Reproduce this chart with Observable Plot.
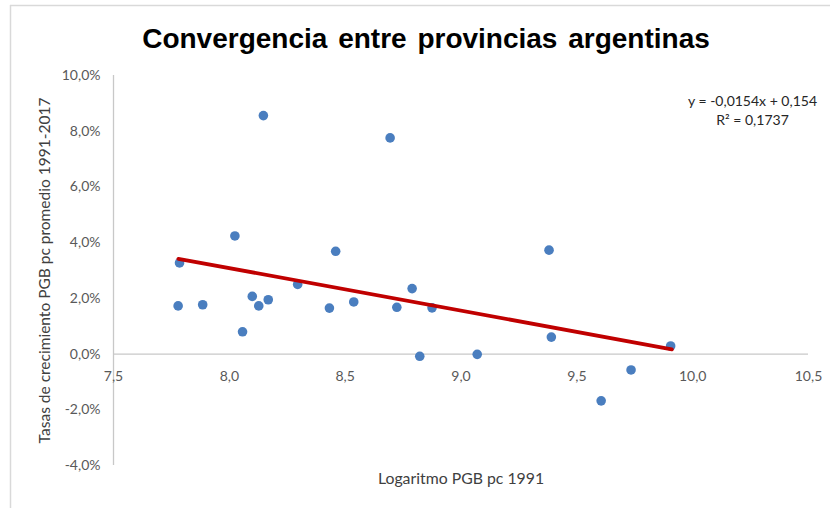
<!DOCTYPE html>
<html>
<head>
<meta charset="utf-8">
<script src="https://cdn.jsdelivr.net/npm/d3@7"></script>
<script src="https://cdn.jsdelivr.net/npm/@observablehq/plot@0.6"></script>
<style>
  html, body { margin: 0; padding: 0; background: #fff; }
  #chart { width: 830px; height: 508px; position: relative; }
</style>
</head>
<body>
<div id="chart"></div>
<script>
const title = "Convergencia entre provincias argentinas";
const xLabel = "Logaritmo PGB pc 1991";
const yLabel = "Tasas de crecimiento PGB pc promedio 1991-2017";
const equation = "y = -0,0154x + 0,154";
const rSquared = "R² = 0,1737";

// Logaritmo PGB pc 1991 (x) and average growth rate 1991-2017 in % (y)
const logPGB = [7.785, 7.779, 7.885, 8.024, 8.057, 8.099, 8.127, 8.147, 8.168, 8.295,
                8.432, 8.459, 8.537, 8.694, 8.723, 8.789, 8.822, 8.875, 9.070, 9.380,
                9.390, 9.605, 9.734, 9.905];
const growth = [3.27, 1.73, 1.77, 4.24, 0.80, 2.07, 1.73, 8.56, 1.95, 2.50,
                1.65, 3.69, 1.87, 7.76, 1.68, 2.35, -0.08, 1.66, -0.01, 3.73,
                0.61, -1.68, -0.57, 0.29];

// trend line end points (as drawn)
const trendX = [7.78, 9.91];
const trendY = [3.42, 0.17];

const xTicks = [7.5, 8.0, 8.5, 9.0, 9.5, 10.0, 10.5];
const yTicks = [-4, -2, 0, 2, 4, 6, 8, 10];

const points = logPGB.map((x, i) => ({x, y: growth[i]}));
const trend = trendX.map((x, i) => ({x, y: trendY[i]}));

const fmtX = d => d.toFixed(1).replace(".", ",");
const fmtY = d => d.toFixed(1).replace(".", ",") + "%";

const font = "Lato, 'Open Sans', sans-serif";
const tickColor = "#595959";

const chart = Plot.plot({
  width: 830,
  height: 508,
  marginLeft: 113,
  marginRight: 22,
  marginTop: 75,
  marginBottom: 43,
  style: {fontFamily: font, background: "#fff"},
  x: {domain: [7.5, 10.5], axis: null},
  y: {domain: [-4, 10], axis: null},
  marks: [
    // axes lines
    Plot.ruleY([0], {x1: 7.5, x2: 10.5, stroke: "#c8c8c8", strokeWidth: 1.3}),
    Plot.ruleX([7.5], {y1: -4, y2: 10, stroke: "#c8c8c8", strokeWidth: 1.3}),
    // y tick labels
    Plot.axisY({ticks: yTicks, tickSize: 0, tickPadding: 13, tickFormat: fmtY,
                label: null, fontSize: 14, color: tickColor}),
    // x tick labels (next to the zero line)
    Plot.text(xTicks, {x: d => d, y: 0, dy: 22, text: fmtX, fontSize: 14, fill: tickColor}),
    // points
    Plot.dot(points, {x: "x", y: "y", r: 4.8, fill: "#4a7ebf", stroke: "none"}),
    // trend line
    Plot.line(trend, {x: "x", y: "y", stroke: "#c00000", strokeWidth: 3.8}),
    // equation
    Plot.text([equation], {frameAnchor: "top-right", dx: -56, dy: 26, textAnchor: "middle",
               lineAnchor: "middle", fontSize: 14, fill: "#262626"}),
    Plot.text([rSquared], {frameAnchor: "top-right", dx: -56, dy: 45, textAnchor: "middle",
               lineAnchor: "middle", fontSize: 14, fill: "#262626"}),
    // title
    Plot.text([title], {frameAnchor: "top", dx: -35, dy: -36, lineAnchor: "middle", textAnchor: "middle",
               fontSize: 28, fontWeight: 900,
               fontFamily: "'Liberation Sans', Arial, sans-serif", fill: "#000"}),
    // axis labels
    Plot.text([xLabel], {frameAnchor: "bottom", dy: 13, lineAnchor: "middle", textAnchor: "middle",
               fontSize: 15.8, fill: "#404040"}),
    Plot.text([yLabel], {frameAnchor: "left", dx: -68, dy: 0, rotate: -90, lineAnchor: "middle",
               textAnchor: "middle", fontSize: 15.5, fill: "#404040"})
  ]
});

// light chart-area border (top and left edges visible in the reference)
const svg = d3.select(chart);
svg.append("line").attr("x1", 10).attr("x2", 830).attr("y1", 5.5).attr("y2", 5.5)
  .attr("stroke", "#d9d9d9").attr("stroke-width", 1.5);
svg.append("line").attr("x1", 10.5).attr("x2", 10.5).attr("y1", 5).attr("y2", 508)
  .attr("stroke", "#d9d9d9").attr("stroke-width", 1.5);
// title word spacing
svg.selectAll("text").filter(function() { return this.textContent === title; })
  .style("word-spacing", "3px");

document.getElementById("chart").appendChild(chart);
</script>
</body>
</html>
